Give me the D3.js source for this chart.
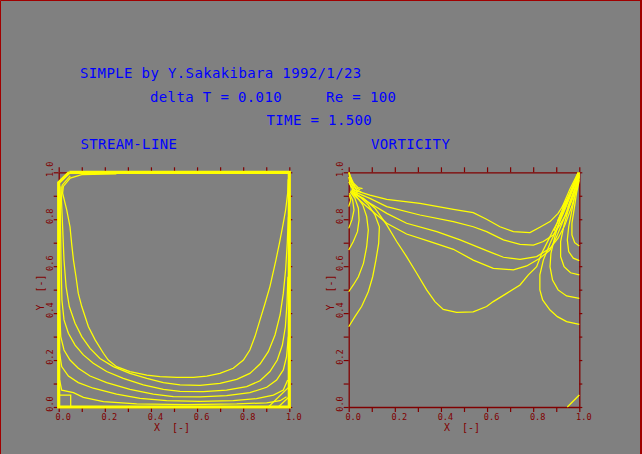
<!DOCTYPE html>
<html><head><meta charset="utf-8">
<script src="https://cdn.jsdelivr.net/npm/d3@7"></script>
<style>html,body{margin:0;padding:0;background:#808080;}svg{display:block}</style>
</head><body>
<script>
// ---------- texts ----------
const titleLines = ["SIMPLE by Y.Sakakibara 1992/1/23", "delta T = 0.010     Re = 100", "TIME = 1.500"];
const panelTitles = ["STREAM-LINE", "VORTICITY"];
const xAxisLabel = "X  [-]";
const yAxisLabel = "Y  [-]";
const tickValues = [0, 0.1, 0.2, 0.3, 0.4, 0.5, 0.6, 0.7, 0.8, 0.9, 1.0];
const tickLabels = ["0.0", "", "0.2", "", "0.4", "", "0.6", "", "0.8", "", "1.0"];

// ---------- stream-line contours (x, y) ----------
const streamBoundary = [[0.046,1],[1,1],[1,0],[0,0],[0,0.956],[0.046,1]];
const stream1 = [[0.25,0.993],[0.10,0.990],[0.05,0.975],[0.02,0.94],[0.017,0.911],[0.035,0.839],[0.049,0.768],[0.056,0.697],[0.064,0.626],[0.075,0.555],[0.085,0.484],[0.100,0.428],[0.129,0.342],[0.158,0.286],[0.194,0.229],[0.215,0.200],[0.251,0.172],[0.309,0.151],[0.382,0.136],[0.439,0.129],[0.512,0.126],[0.584,0.126],[0.642,0.132],[0.699,0.143],[0.757,0.165],[0.801,0.200],[0.829,0.243],[0.851,0.300],[0.873,0.371],[0.895,0.442],[0.916,0.513],[0.942,0.626],[0.957,0.697],[0.971,0.768],[0.984,0.839],[0.993,0.911],[0.995,0.97]];
const stream2 = [[0.05,0.985],[0.015,0.945],[0.012,0.882],[0.017,0.768],[0.023,0.626],[0.032,0.513],[0.046,0.428],[0.071,0.357],[0.100,0.300],[0.136,0.250],[0.179,0.207],[0.237,0.172],[0.309,0.143],[0.382,0.122],[0.454,0.104],[0.526,0.094],[0.613,0.092],[0.699,0.101],[0.772,0.118],[0.829,0.143],[0.873,0.183],[0.909,0.236],[0.938,0.307],[0.960,0.392],[0.974,0.484],[0.984,0.584],[0.991,0.697],[0.996,0.811]];
const stream3 = [[0.010,0.94],[0.007,0.839],[0.010,0.626],[0.014,0.456],[0.023,0.371],[0.042,0.314],[0.071,0.264],[0.107,0.222],[0.150,0.186],[0.208,0.151],[0.280,0.122],[0.367,0.094],[0.454,0.075],[0.526,0.067],[0.627,0.065],[0.728,0.072],[0.815,0.087],[0.873,0.112],[0.916,0.151],[0.948,0.200],[0.970,0.264],[0.983,0.342],[0.990,0.442],[0.994,0.555]];
const stream4 = [[0.004,0.413],[0.009,0.300],[0.023,0.243],[0.049,0.200],[0.085,0.165],[0.136,0.132],[0.208,0.104],[0.309,0.075],[0.410,0.055],[0.497,0.044],[0.613,0.043],[0.728,0.048],[0.829,0.061],[0.902,0.084],[0.945,0.115],[0.974,0.158],[0.988,0.214],[0.996,0.300]];
const stream5 = [[0.004,0.229],[0.013,0.172],[0.042,0.132],[0.085,0.104],[0.150,0.080],[0.251,0.055],[0.353,0.037],[0.468,0.027],[0.613,0.024],[0.757,0.027],[0.858,0.036],[0.931,0.051],[0.974,0.072],[0.993,0.115]];
const stream6 = [[0.004,0.115],[0.013,0.072],[0.064,0.061],[0.107,0.041],[0.194,0.023],[0.338,0.013],[0.555,0.010],[0.772,0.013],[0.902,0.018],[0.960,0.027],[0.988,0.044]];
const stream7 = [[0,0.051],[0.052,0.051],[0.052,0]];
const stream8 = [[0.909,0],[1,0.087]];
const stream9 = [[0.952,0],[1,0.044]];

// ---------- vorticity contours (x, y) ----------
const vortH1 = [[0.013,0.927],[0.092,0.903],[0.165,0.885],[0.309,0.868],[0.454,0.842],[0.540,0.828],[0.598,0.800],[0.656,0.768],[0.714,0.747],[0.786,0.743],[0.829,0.766],[0.873,0.790],[0.908,0.825],[0.945,0.882],[0.974,0.932],[1,0.996]];
const vortH2 = [[0.013,0.922],[0.092,0.889],[0.165,0.854],[0.309,0.818],[0.454,0.790],[0.540,0.768],[0.598,0.747],[0.671,0.712],[0.743,0.693],[0.801,0.690],[0.844,0.705],[0.887,0.733],[0.916,0.776],[0.945,0.825],[0.974,0.896],[1,0.989]];
const vortH3 = [[0.013,0.916],[0.092,0.868],[0.165,0.825],[0.251,0.783],[0.382,0.747],[0.483,0.712],[0.598,0.666],[0.671,0.638],[0.743,0.629],[0.815,0.641],[0.873,0.676],[0.908,0.719],[0.938,0.776],[0.967,0.854],[0.988,0.925],[1,0.985]];
const vortH4 = [[0.013,0.911],[0.078,0.854],[0.165,0.783],[0.251,0.737],[0.353,0.705],[0.454,0.672],[0.540,0.626],[0.627,0.591],[0.714,0.584],[0.772,0.601],[0.829,0.634],[0.873,0.669],[0.902,0.726],[0.931,0.797],[0.960,0.875],[0.988,0.953],[1,0.98]];
const vortH5 = [[0.013,0.915],[0.064,0.889],[0.114,0.847],[0.165,0.776],[0.208,0.705],[0.251,0.641],[0.295,0.570],[0.338,0.499],[0.374,0.449],[0.410,0.416],[0.468,0.403],[0.540,0.405],[0.598,0.428],[0.627,0.449],[0.685,0.484],[0.743,0.520],[0.779,0.563],[0.815,0.598],[0.837,0.655],[0.866,0.712],[0.887,0.754],[0.916,0.804],[0.945,0.868],[0.974,0.939],[1,0.999]];
const vortV1 = [[0.013,0.925],[0.049,0.896],[0.085,0.861],[0.114,0.818],[0.133,0.768],[0.130,0.697],[0.118,0.626],[0.104,0.555],[0.085,0.491],[0.056,0.428],[0.027,0.385],[0,0.342]];
const vortV2 = [[0.009,0.922],[0.035,0.896],[0.061,0.861],[0.078,0.811],[0.085,0.754],[0.078,0.683],[0.064,0.612],[0.042,0.555],[0.020,0.520],[0,0.491]];
const vortV3 = [[0.006,0.918],[0.027,0.889],[0.042,0.847],[0.045,0.797],[0.038,0.747],[0.020,0.705],[0,0.669]];
const vortV4 = [[0.003,0.911],[0.017,0.882],[0.023,0.839],[0.014,0.797],[0,0.761]];
const vortV5 = [[0.003,0.903],[0.009,0.882],[0,0.854]];
const vortC1 = [[0,1],[0.008,0.96],[0.025,0.925],[0.04,0.915]];
const vortC2 = [[0.004,0.99],[0.015,0.95],[0.035,0.925],[0.055,0.915]];
const vortC3 = [[0,0.96],[0.012,0.935],[0.03,0.92]];
const vortC4 = [[0.002,1],[0.012,0.965],[0.03,0.935],[0.05,0.925]];
const vortC5 = [[0.006,0.985],[0.02,0.955],[0.04,0.935],[0.06,0.93]];
const vortC6 = [[0,0.98],[0.006,0.95],[0.02,0.925]];
const vortR1 = [[1,0.996],[0.981,0.953],[0.960,0.896],[0.931,0.825],[0.902,0.761],[0.873,0.697],[0.844,0.626],[0.829,0.563],[0.829,0.499],[0.841,0.456],[0.873,0.413],[0.905,0.385],[0.945,0.364],[1,0.352]];
const vortR2 = [[1,0.989],[0.974,0.932],[0.945,0.868],[0.916,0.797],[0.894,0.726],[0.877,0.655],[0.873,0.598],[0.884,0.541],[0.908,0.499],[0.945,0.473],[1,0.463]];
const vortR3 = [[1,0.982],[0.977,0.918],[0.954,0.847],[0.934,0.776],[0.919,0.705],[0.919,0.641],[0.934,0.598],[0.962,0.572],[1,0.563]];
const vortR4 = [[1,0.974],[0.983,0.911],[0.968,0.839],[0.954,0.768],[0.948,0.712],[0.954,0.662],[0.974,0.634],[1,0.624]];
const vortR5 = [[1,0.967],[0.988,0.911],[0.977,0.839],[0.968,0.783],[0.968,0.733],[0.980,0.700],[1,0.686]];
const vortR6 = [[0.995,1],[0.975,0.95],[0.955,0.9],[0.94,0.86]];
const vortR7 = [[1,0.99],[0.985,0.94],[0.965,0.89],[0.95,0.85]];
const vortR8 = [[1,1],[0.97,0.93],[0.94,0.87],[0.91,0.80],[0.89,0.75]];
const vortR9 = [[1,0.995],[0.965,0.925],[0.935,0.86],[0.905,0.79]];
const vortR10 = [[0.995,0.998],[0.96,0.93],[0.925,0.85]];
const vortB1 = [[0.948,0],[1,0.051]];

const streamLines = [stream1, stream2, stream3, stream4, stream5, stream6, stream7, stream8, stream9];
const vortLines = [vortH1, vortH2, vortH3, vortH4, vortH5, vortV1, vortV2, vortV3, vortV4, vortV5, vortC1, vortC2, vortC3, vortC4, vortC5, vortC6, vortR1, vortR2, vortR3, vortR4, vortR5, vortR6, vortR7, vortR8, vortR9, vortR10, vortB1];

// ---------- drawing ----------
const W = 642, H = 454;
const AX = "#800000", LINE = "#ffff00", BLUE = "#0000ff";
const svg = d3.select("body").append("svg").attr("width", W).attr("height", H);
svg.append("rect").attr("width", W).attr("height", H).attr("fill", "#808080");
// outer border
svg.append("path").attr("d", "M0.5,454V0.5H640.5V454").attr("fill", "none").attr("stroke", "#a00000").attr("stroke-width", 1);
svg.append("rect").attr("x", 640).attr("y", 0).attr("width", 2).attr("height", H).attr("fill", "#a00000");

const titleFont = "'DejaVu Sans Mono', monospace";
const titlePos = [[80, 78], [150, 101.5], [266.5, 125]];
titleLines.forEach((t, i) => {
  svg.append("text").attr("x", titlePos[i][0]).attr("y", titlePos[i][1])
    .attr("fill", BLUE).attr("font-family", titleFont).attr("font-size", 14)
    .attr("letter-spacing", 0.37).style("white-space", "pre").text(t);
});
const panelX = [80.5, 371];
panelTitles.forEach((t, i) => {
  svg.append("text").attr("x", panelX[i]).attr("y", 149).attr("fill", BLUE)
    .attr("font-family", titleFont).attr("font-size", 14).attr("letter-spacing", 0.37).text(t);
});

function panel(x0, x1, lines, boundary) {
  const top = 172.3, bottom = 407;
  const x = d3.scaleLinear().domain([0, 1]).range([x0, x1]);
  const y = d3.scaleLinear().domain([0, 1]).range([bottom, top]);
  const g = svg.append("g");
  const fmt = (d, i) => tickLabels[i];
  const styleAxis = sel => {
    sel.selectAll("path").attr("stroke", AX).attr("stroke-width", 1.3);
    sel.selectAll("line").attr("stroke", AX).attr("stroke-width", 1.2);
    sel.selectAll("text").attr("fill", AX).attr("font-family", titleFont).attr("font-size", 8.6);
  };
  g.append("g").attr("transform", `translate(0,${bottom})`)
    .call(d3.axisBottom(x).tickValues(tickValues).tickFormat(fmt).tickSize(5).tickSizeOuter(0).tickPadding(3))
    .call(styleAxis)
    .call(s => s.selectAll("text").attr("dx", 4).attr("dy", 0).attr("y", 12.5));
  g.append("g").attr("transform", `translate(0,${top})`)
    .call(d3.axisTop(x).tickValues(tickValues).tickFormat("").tickSize(5).tickSizeOuter(0))
    .call(styleAxis);
  g.append("g").attr("transform", `translate(${x1},0)`)
    .call(d3.axisRight(y).tickValues(tickValues).tickFormat("").tickSize(3).tickSizeOuter(0))
    .call(styleAxis);
  const ly = g.append("g").attr("transform", `translate(${x0},0)`)
    .call(d3.axisLeft(y).tickValues(tickValues).tickFormat(fmt).tickSize(5).tickSizeOuter(0))
    .call(styleAxis);
  ly.selectAll(".tick text").attr("x", null).attr("dy", null)
    .attr("text-anchor", "middle")
    .attr("transform", "translate(-5.5,-3.5) rotate(-90)");
  // axis titles
  svg.append("text").attr("x", (x0 + x1) / 2 - 2).attr("y", 431).attr("text-anchor", "middle")
    .attr("fill", AX).attr("font-family", titleFont).attr("font-size", 10).style("white-space", "pre").text(xAxisLabel);
  svg.append("text").attr("transform", `translate(${x0 - 14.5},292.5) rotate(-90)`).attr("text-anchor", "middle")
    .attr("fill", AX).attr("font-family", titleFont).attr("font-size", 10).style("white-space", "pre").text(yAxisLabel);

  const line = d3.line().x(d => x(d[0])).y(d => y(d[1]));
  if (boundary) {
    g.append("path").attr("d", line(boundary)).attr("fill", "none").attr("stroke", LINE).attr("stroke-width", 3.2);
  }
  g.selectAll("path.c").data(lines).enter().append("path").attr("class", "c")
    .attr("d", line).attr("fill", "none").attr("stroke", LINE).attr("stroke-width", 1.25);
}
panel(58.7, 289.3, streamLines, streamBoundary);
panel(348.7, 579.3, vortLines, null);
</script>
</body></html>
